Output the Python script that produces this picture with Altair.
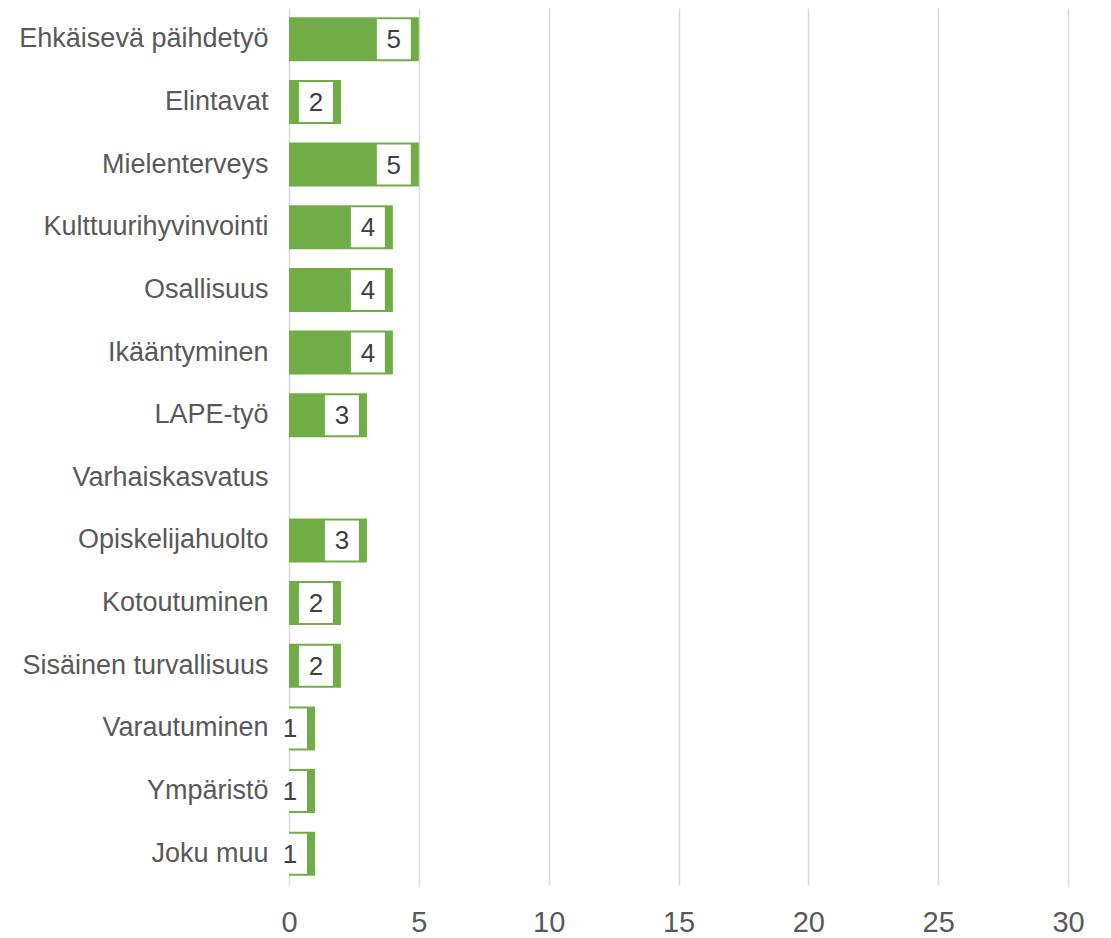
import altair as alt
import pandas as pd

categories = ["Ehkäisevä päihdetyö", "Elintavat", "Mielenterveys", "Kulttuurihyvinvointi",
              "Osallisuus", "Ikääntyminen", "LAPE-työ", "Varhaiskasvatus", "Opiskelijahuolto",
              "Kotoutuminen", "Sisäinen turvallisuus", "Varautuminen", "Ympäristö", "Joku muu"]
values = [5, 2, 5, 4, 4, 4, 3, None, 3, 2, 2, 1, 1, 1]
x_ticks = [0, 5, 10, 15, 20, 25, 30]

df = pd.DataFrame({"category": categories, "value": values})

y_enc = alt.Y("category:N", sort=categories,
              scale=alt.Scale(paddingInner=0.3, paddingOuter=0.15),
              axis=alt.Axis(title=None, domain=False, ticks=False, labelFontSize=27,
                            labelColor="#595959", labelPadding=21, labelLimit=400,
                            labelFont="Liberation Sans", grid=False))
x_scale = alt.Scale(domain=[0, 30], nice=False)

bars = alt.Chart(df).mark_bar(color="#70AD47", size=44).encode(
    x=alt.X("value:Q", scale=x_scale,
            axis=alt.Axis(title=None, values=x_ticks, domain=False, ticks=False,
                          grid=True, gridColor="#d9d9d9", gridWidth=1.5,
                          labelFontSize=29, labelColor="#595959", labelPadding=23,
                          labelFlush=False, labelBound=False,
                          labelFont="Liberation Sans")),
    y=y_enc,
)

boxes = alt.Chart(df).transform_filter("datum.value > 0").mark_bar(
    color="white", size=40, xOffset=-42, x2Offset=-8
).encode(
    x=alt.X("value:Q", scale=x_scale),
    x2="value:Q",
    y=alt.Y("category:N", sort=categories),
)

labels = alt.Chart(df).transform_filter("datum.value > 0").mark_text(
    dx=-25, dy=1, align="center", baseline="middle", fontSize=26, color="#404040",
    font="Liberation Sans"
).encode(
    x=alt.X("value:Q", scale=x_scale),
    y=alt.Y("category:N", sort=categories),
    text="value:Q",
)

chart = alt.layer(bars, boxes, labels).properties(
    width=779, height=877,
    padding={"left": 281, "top": 0, "right": 35, "bottom": 53},
    autosize=alt.AutoSizeParams(type="none"),
    background="white",
).configure_view(stroke=None)

chart.save("out.html", embed_options={"renderer": "svg", "actions": False})
